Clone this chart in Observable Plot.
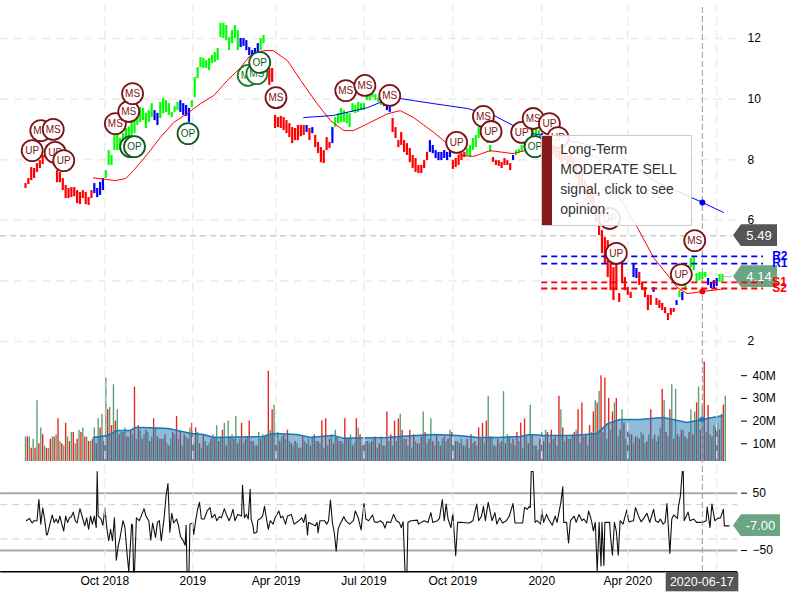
<!DOCTYPE html>
<html>
<head>
<meta charset="utf-8">
<script src="https://cdn.jsdelivr.net/npm/d3@7"></script>
<script src="https://cdn.jsdelivr.net/npm/@observablehq/plot@0.6"></script>
<style>
html,body{margin:0;padding:0;background:#fff;}
#chart{position:relative;width:800px;height:600px;overflow:hidden;font-family:"Liberation Sans",Arial,sans-serif;}
#chart svg{position:absolute;left:0;top:0;background:none;}
.badge{position:absolute;color:#fff;font-size:13px;display:flex;align-items:center;justify-content:center;box-sizing:border-box;}
#tip{position:absolute;box-sizing:border-box;background:rgba(255,255,255,.88);border:1px solid #ccc;color:#333;font-size:14px;line-height:20px;padding:3px 0 0 18px;white-space:nowrap;}
#tip i{position:absolute;left:0;top:0;bottom:0;width:10px;background:#85191b;}
</style>
</head>
<body>
<div id="chart"></div>
<script>
// day numbers count from the first bar, 2018-07-10
const firstDay = Date.UTC(2018, 6, 10);
const dayDate = d => new Date(firstDay + d * 864e5);

// x axis
const tickDays = [83, 175, 262, 354, 447, 540, 630];
const tickLabels = ["Oct 2018", "2019", "Apr 2019", "Jul 2019", "Oct 2019", "2020", "Apr 2020"];
const gridDays = [83, 175, 262, 354, 447, 540, 630, 723];
const cursorDay = 708;

// price bars, one every three days
const priceHigh = [7.21,7.38,7.74,7.71,7.87,7.97,8.14,8.30,8.37,8.24,8.04,7.64,7.58,7.38,7.15,7.05,7.08,7.08,6.98,6.92,6.98,6.92,6.75,6.98,7.21,7.05,7.25,7.38,7.64,8.30,8.14,8.80,8.86,8.70,8.86,9.03,9.09,9.23,9.29,9.56,9.72,9.69,9.53,9.62,9.85,9.62,9.53,9.89,10.02,9.95,9.85,9.56,9.76,9.89,9.95,9.85,9.79,9.69,9.95,10.71,11.04,11.37,11.34,11.27,11.34,11.44,11.54,11.67,12.50,12.50,12.43,12.03,12.26,12.43,12.26,12.00,12.00,11.93,11.70,11.60,11.67,11.83,12.00,12.10,11.27,11.01,11.01,9.46,9.39,9.43,9.39,9.29,9.19,9.06,9.03,9.13,9.13,9.13,9.13,9.03,9.06,8.80,8.57,8.40,8.30,8.73,8.57,9.06,9.39,9.52,9.69,9.62,9.56,9.52,9.85,9.79,9.89,9.85,9.85,10.28,10.28,10.28,10.15,10.02,9.95,9.95,9.89,9.79,9.36,9.06,8.63,8.90,8.63,8.53,8.37,8.14,8.04,7.81,7.81,7.97,8.24,8.63,8.47,8.30,8.24,8.24,8.30,8.24,8.37,7.97,8.04,8.14,8.20,8.24,8.37,8.47,8.70,8.80,9.06,9.13,9.03,8.73,8.47,8.07,7.97,7.97,7.91,8.04,7.97,7.87,8.14,8.30,8.34,8.47,8.70,8.96,8.96,8.96,9.00,8.96,8.86,8.80,8.57,8.53,8.53,8.37,8.30,8.30,8.24,8.14,8.24,8.04,7.81,7.64,7.54,7.31,7.15,6.98,6.82,6.49,6.16,5.66,5.43,5.33,4.57,4.44,5.17,3.58,4.57,4.11,3.78,3.62,4.57,4.41,4.28,3.95,3.78,3.52,3.52,3.78,3.42,3.35,3.26,3.12,2.92,3.09,3.09,3.35,3.68,3.62,3.85,4.51,4.74,4.77,4.24,4.28,4.28,4.28,4.08,3.95,4.01,4.08,4.21,4.21];
const priceLow = [7.05,7.18,7.31,7.38,7.58,7.71,7.84,8.04,8.11,7.97,7.78,7.24,7.24,6.98,6.72,6.72,6.75,6.78,6.55,6.52,6.72,6.52,6.49,6.72,6.88,6.75,6.82,6.98,7.38,7.81,7.81,8.30,8.30,8.30,8.43,8.56,8.63,8.80,8.86,9.13,9.23,9.29,9.03,9.23,9.39,9.29,9.13,9.36,9.52,9.56,9.46,9.39,9.56,9.62,9.56,9.46,9.43,9.23,9.72,10.05,10.68,11.04,11.01,11.01,10.94,11.17,11.21,11.27,12.03,12.00,11.93,11.60,11.83,12.00,11.60,11.70,11.74,11.60,11.44,11.34,11.44,11.54,11.60,11.83,10.88,10.45,10.55,9.03,9.06,9.03,8.96,8.86,8.73,8.53,8.63,8.63,8.76,8.80,8.90,8.63,8.86,8.40,8.20,7.90,7.87,8.30,8.37,8.53,9.06,9.19,9.23,9.23,9.19,9.06,9.56,9.52,9.56,9.62,9.62,9.95,9.95,10.05,9.95,9.89,9.79,9.76,9.62,9.56,8.90,8.70,8.40,8.47,8.24,8.14,7.90,7.71,7.58,7.54,7.54,7.71,7.97,8.24,8.20,8.04,7.97,7.97,8.04,7.97,8.07,7.68,7.74,7.81,7.97,8.07,8.11,8.07,8.30,8.40,8.70,8.80,8.63,8.53,8.24,7.91,7.81,7.78,7.71,7.81,7.81,7.64,7.97,8.14,8.20,8.24,8.37,8.47,8.57,8.70,8.76,8.80,8.53,8.53,8.30,8.24,8.14,8.04,7.97,7.91,7.97,7.81,7.87,7.58,7.38,7.15,7.08,6.82,6.75,6.55,6.32,5.93,5.50,4.90,4.57,4.11,3.68,3.35,3.68,3.29,3.91,3.68,3.52,3.42,4.11,4.08,3.85,3.68,3.45,3.02,3.19,3.62,3.19,3.09,3.02,2.92,2.69,2.86,2.96,3.19,3.45,3.35,3.68,4.01,4.44,4.34,3.95,4.01,4.05,4.11,3.85,3.75,3.75,3.82,3.95,3.98];
const signalRuns = [[24,"red"],[4,"blue"],[17,"green"],[2,"blue"],[7,"green"],[4,"blue"],[17,"green"],[7,"blue"],[2,"green"],[14,"red"],[1,"blue"],[1,"red"],[1,"blue"],[6,"red"],[1,"blue"],[17,"green"],[3,"blue"],[13,"red"],[8,"blue"],[5,"red"],[9,"green"],[7,"red"],[1,"blue"],[9,"green"],[2,"blue"],[30,"red"],[2,"blue"],[5,"red"],[1,"blue"],[7,"red"],[1,"blue"],[1,"green"],[1,"blue"],[8,"green"],[4,"blue"],[2,"green"]];
const signalColors = {red:"#ff0000", green:"#00ff00", blue:"#0000ff"};

// moving averages: [day, price]
const maShort = [[71,7.40],[84,7.35],[94,7.31],[105,7.38],[113,7.64],[128,8.20],[141,8.73],[155,9.23],[169,9.52],[183,9.85],[197,10.12],[211,10.61],[225,11.04],[235,11.44],[249,11.60],[259,11.60],[274,11.27],[288,10.61],[305,9.85],[319,9.29],[333,8.96],[343,8.96],[358,9.19],[379,9.52],[392,9.62],[406,9.39],[427,8.90],[441,8.53],[455,8.14],[469,8.11],[486,8.30],[510,8.20],[531,8.37],[567,8.53],[598,8.07],[619,6.88],[640,5.76],[657,4.77],[682,3.78],[692,3.58],[708,3.65],[727,3.72],[730,3.75]];
const maLong = [[291,9.39],[322,9.46],[358,9.72],[371,9.89],[392,10.02],[406,9.95],[427,9.85],[462,9.69],[490,9.46],[510,9.13],[531,8.86],[584,8.53],[619,8.20],[657,7.31],[708,6.59],[730,6.26]];

// support and resistance
const levelStart = 540, levelEnd = 772, levelLabelDay = 781;
const levelNames = ["R2","R1","S1","S2"];
const levelValues = [4.81,4.57,3.95,3.75];
const levelColors = ["#0000ff","#0000ff","#ff0000","#ff0000"];

// signal circles: day, price, label, kind
const signalDays = [7,16,29,31,40,94,108,112,110,114,170,233,242,245,262,335,355,381,451,479,487,519,531,548,557,533,611,618,700,686];
const signalPrices = [8.30,8.96,9.00,8.24,7.97,9.19,9.59,10.18,8.43,8.43,8.86,10.78,10.84,11.21,10.05,10.28,10.45,10.12,8.57,9.43,8.93,8.90,9.36,9.19,8.73,8.43,6.06,4.91,5.33,4.21];
const signalLabels = ["UP","MS","MS","UP","UP","MS","MS","MS","OP","OP","OP","MS","MS","OP","MS","MS","MS","MS","UP","MS","UP","UP","MS","UP","UP","OP","UP","UP","MS","UP"];
const signalInk = ["d","d","d","d","d","d","d","d","g","g","g","m","m","g","d","d","d","d","d","d","d","d","d","d","d","g","d","d","d","d"];
const inkColors = {d:"#7d1315", g:"#0f5a1c", m:"#1c7a28"};

// volume in millions: green bars fall on every fourth day, red bars two days later
const greenVolume = [13,13,12,29,17,9,8,13,14,11,9,13,15,10,16,17,13,11,17,21,23,39,26,36,25,15,17,13,14,12,16,14,15,13,17,12,12,10,12,14,12,9,13,17,10,15,8,11,10,14,18,13,19,20,14,22,12,10,13,11,9,15,14,14,16,27,15,13,12,11,9,10,8,11,12,13,11,10,8,9,14,16,11,10,12,14,10,17,9,11,10,12,8,13,9,11,9,11,23,12,9,8,11,10,24,10,21,9,11,12,11,16,9,11,12,9,8,10,9,12,10,31,13,9,10,33,14,10,9,11,8,13,27,9,7,15,16,10,12,9,25,11,12,14,16,10,13,9,15,29,33,15,12,16,28,13,25,12,14,10,13,15,10,14,12,11,17,29,13,36,34,13,16,12,25,24,35,27,15,14,18,19,23,31];
const redVolume = [13,8,8,10,14,8,12,13,21,10,19,11,15,12,15,13,11,12,10,17,11,25,18,20,14,15,13,16,35,18,12,16,11,21,13,12,14,9,15,22,15,14,12,19,17,10,14,9,12,13,11,16,9,13,12,10,19,12,20,11,9,12,13,42,25,13,11,14,16,10,11,8,13,10,9,14,11,20,21,12,10,13,11,21,12,9,21,14,10,11,11,13,10,9,24,14,20,21,16,12,16,14,10,13,15,12,11,14,9,13,12,15,11,10,9,12,14,11,17,19,20,13,9,12,11,10,13,12,15,19,21,10,14,9,12,11,15,16,13,31,17,13,12,15,25,28,14,18,24,28,40,39,30,24,30,16,19,15,14,13,12,14,11,25,14,13,34,15,25,12,14,16,13,15,14,28,16,46,27,13,17,16,27];
const volumeAverage = [[71,12.8],[86,13.7],[96,15.9],[110,15.9],[115,17.2],[123,17.2],[149,16.7],[159,15.9],[173,14.5],[186,14.1],[197,12.8],[249,13.2],[259,14.5],[284,14.1],[298,12.8],[309,13.2],[322,13.7],[333,12.4],[379,12.8],[392,13.2],[427,14.1],[452,13.7],[473,12.8],[494,12.8],[518,13.2],[528,14.1],[542,13.7],[573,13.7],[598,14.5],[609,18.9],[622,20.7],[643,20.7],[667,21.6],[692,19.4],[708,20.7],[730,22.5]];

// momentum oscillator: [day, value]
const oscillator = [[1,2],[4,6],[7,-2],[9,2],[12,2],[14,39],[16,-4],[18,24],[20,5],[22,-23],[23,-22],[26,-1],[28,12],[30,-1],[32,5],[34,-2],[36,10],[38,-4],[40,-16],[42,10],[44,-1],[46,7],[48,9],[50,17],[52,2],[54,-2],[57,23],[60,5],[62,-7],[64,7],[66,-13],[68,10],[70,-4],[72,10],[74,-10],[75,88],[76,10],[79,5],[81,-6],[83,25],[85,-10],[87,-33],[89,-13],[91,-33],[93,7],[95,-67],[97,-42],[99,-27],[102,2],[104,-10],[106,-51],[108,-87],[111,-4],[112,-6],[113,-87],[114,-87],[116,7],[119,2],[121,10],[124,23],[126,10],[129,2],[131,-32],[133,-2],[136,-27],[138,-1],[140,2],[142,-33],[145,7],[147,45],[149,67],[151,-18],[153,15],[155,-2],[158,5],[160,-6],[162,-25],[165,-33],[167,-41],[168,-6],[169,-87],[171,-87],[172,-4],[175,-2],[176,-22],[178,2],[180,22],[182,34],
[184,5],[187,5],[190,19],[193,25],[195,7],[198,13],[200,2],[203,9],[205,7],[208,23],[210,13],[213,2],[215,10],[217,22],[219,2],[222,13],[226,10],[227,64],[229,7],[231,13],[233,5],[235,57],[236,5],[238,-7],[239,-20],[242,-18],[243,3],[246,6],[248,10],[250,27],[253,-4],[254,-13],[256,2],[259,-4],[261,7],[265,19],[267,7],[269,10],[272,-4],[274,10],[278,13],[281,-4],[286,2],[289,7],[291,-1],[293,13],[295,-23],[296,-1],[300,-4],[303,-7],[305,-1],[306,-19],[308,2],[313,2],[315,-4],[317,2],[319,38],[321,-1],[323,-19],[325,-51],[327,-13],[329,-4],[333,9],[335,2],[339,-4],[343,2],[345,19],[348,7],[351,-14],[354,32],[356,5],[359,2],[363,12],[365,0],[368,-1],
[371,2],[374,-2],[376,-11],[378,0],[382,-1],[385,13],[388,2],[391,-1],[393,-10],[395,0],[397,-87],[399,-87],[400,-1],[403,2],[410,3],[411,-4],[417,2],[421,-1],[424,16],[426,-1],[431,2],[433,6],[436,39],[438,2],[440,31],[442,5],[445,-10],[447,15],[450,-59],[452,-1],[457,-1],[464,-2],[468,2],[472,31],[474,2],[477,10],[479,27],[481,2],[484,34],[488,2],[491,16],[493,-4],[496,7],[499,-2],[503,2],[506,10],[510,32],[512,-2],[520,-2],[522,25],[525,22],[527,27],[528,25],[529,88],[531,88],[533,-1],[535,2],[539,-4],[540,22],[542,-1],[545,13],[547,5],[551,-6],[554,10],[556,-1],[560,34],
[562,61],[563,-1],[566,-1],[568,-37],[570,2],[574,10],[576,-1],[579,13],[582,2],[584,5],[587,-2],[589,19],[592,2],[594,-16],[596,-1],[598,-87],[600,-1],[602,-77],[603,-1],[605,-76],[606,-1],[611,-1],[612,-27],[614,-58],[616,-1],[618,-16],[620,-58],[622,2],[625,-4],[629,21],[631,0],[636,2],[638,25],[642,7],[644,0],[647,7],[650,15],[653,-1],[657,22],[659,2],[662,-1],[664,5],[667,-4],[669,-1],[671,32],[674,-55],[676,5],[678,12],[682,6],[683,27],[685,45],[687,88],[688,88],[689,2],[693,17],[695,2],[699,5],[702,-1],[708,-1],[712,2],[713,26],[716,-10],[718,31],[721,2],[724,6],[727,7],[730,22],[731,-7],[736,-7]];

// panel readouts
const lastClose = 5.49, lastPrice = 4.14, lastOsc = -7, cursorLabel = "2020-06-17";
const cursorPriceShort = 3.65, cursorPriceLong = 6.59, cursorVolume = 20.7;
const tipLines = ["Long-Term","MODERATE SELL","signal, click to see","opinion."];

const font = '"Liberation Sans", Arial, sans-serif';
const xScale = {type:"utc", domain:[dayDate(-26.15), dayDate(810.65)], range:[0,800], axis:null};
const base = {width:800, height:600, marginTop:0, marginLeft:0, style:{fontFamily:font, fontSize:"12px", background:"none"}};
const axisEnd = 745, axisStart = -26;

const bars = priceHigh.map((h,i)=>({date:dayDate(i*3), h, l:priceLow[i]}));
let k = 0;
signalRuns.forEach(([n,c])=>{ for(let j=0;j<n;j++) bars[k++].c = signalColors[c]; });
const pts = a => a.map(([d,v])=>({date:dayDate(d), v}));
const levels = levelNames.map((n,i)=>({n, v:levelValues[i], c:levelColors[i]}));
const signals = signalDays.map((d,i)=>({date:dayDate(d), p:signalPrices[i], t:signalLabels[i], c:inkColors[signalInk[i]]}));
const vols = [
  ...greenVolume.map((v,i)=>({date:dayDate(i*4), v, c:"#5f9f78"})),
  ...redVolume.map((v,i)=>({date:dayDate(i*4+2), v, c:"#e8281e"}))
].sort((a,b)=>a.date-b.date);

const oscPlot = Plot.plot({...base, marginRight:60, marginBottom:29,
  x:xScale, y:{domain:[-50,50], range:[550,492.7], axis:null},
  marks:[
    Plot.ruleY([-50,50],{x1:dayDate(axisStart),x2:dayDate(axisEnd),stroke:"#aaa",strokeWidth:2}),
    Plot.ruleY([-30,30],{x1:dayDate(axisStart),x2:dayDate(axisEnd),stroke:"#ccc",strokeWidth:1,strokeDasharray:"7,5"}),
    Plot.line(pts(oscillator),{x:"date",y:"v",stroke:"#111",strokeWidth:1.1}),
    Plot.ruleY([-87.3],{x1:dayDate(axisStart),x2:dayDate(axisEnd),stroke:"#000",strokeWidth:1.5}),
    Plot.axisX({ticks:tickDays.map(dayDate),tickFormat:d=>tickLabels[tickDays.indexOf((d-firstDay)/864e5)],tickSize:0,tickPadding:5,label:null,color:"#000"}),
    Plot.axisY({anchor:"right",ticks:[-50,50],tickSize:6,tickPadding:6,label:null,color:"#000"})
  ]});

const volPlot = Plot.plot({...base, marginRight:60, marginBottom:0,
  x:xScale, y:{domain:[0,40], range:[466,375.2], axis:null},
  marks:[
    Plot.ruleX(vols,{x:"date",y1:()=>2.2,y2:"v",stroke:"c",strokeWidth:1.4}),
    Plot.areaY(pts(volumeAverage),{x:"date",y1:()=>2.2,y2:"v",fill:"#1f77b4",fillOpacity:.5}),
    Plot.line(pts(volumeAverage),{x:"date",y:"v",stroke:"#1f77b4",strokeWidth:1.5}),
    Plot.dot([{date:dayDate(cursorDay),v:cursorVolume}],{x:"date",y:"v",r:3,fill:"#1f77b4"}),
    Plot.axisY({anchor:"right",ticks:[10,20,30,40],tickFormat:d=>d+"M",tickSize:6,tickPadding:6,label:null,color:"#000"})
  ]});

const pricePlot = Plot.plot({...base, marginRight:53, marginBottom:0,
  x:xScale, y:{domain:[2,12], range:[341,38], axis:null},
  marks:[
    Plot.ruleY([2,4,6,8,10,12],{x1:dayDate(axisStart),x2:dayDate(axisEnd),stroke:"#ececec",strokeWidth:1.5,strokeDasharray:"8,6"}),
    Plot.ruleX(gridDays.map(dayDate),{y1:()=>-5.59,y2:()=>13.09,stroke:"#e8e8e8",strokeWidth:1.2,strokeDasharray:"8,6"}),
    Plot.ruleY([lastClose],{x1:dayDate(axisStart),x2:dayDate(739),stroke:"#ccc",strokeWidth:1.5,strokeDasharray:"6,4"}),
    Plot.ruleY([lastPrice],{x1:dayDate(730),x2:dayDate(739),stroke:"#bbb",strokeWidth:1}),
    Plot.ruleX([dayDate(cursorDay)],{y1:()=>-5.59,y2:()=>13.09,stroke:"#999",strokeWidth:1,strokeDasharray:"6,3"}),
    Plot.ruleX(bars,{x:"date",y1:"l",y2:"h",stroke:"c",strokeWidth:2.2}),
    Plot.line(pts(maShort),{x:"date",y:"v",stroke:"#ff0000",strokeWidth:1}),
    Plot.line(pts(maLong),{x:"date",y:"v",stroke:"#0000ff",strokeWidth:1}),
    Plot.ruleY(levels,{y:"v",x1:dayDate(levelStart),x2:dayDate(levelEnd),stroke:"c",strokeWidth:1.8,strokeDasharray:"6,4"}),
    Plot.text(levels,{x:()=>dayDate(levelLabelDay),y:"v",text:"n",fill:"c",fontWeight:"bold",fontSize:12,textAnchor:"start"}),
    Plot.dot([{date:dayDate(cursorDay),v:cursorPriceShort}],{x:"date",y:"v",r:3,fill:"#ff0000"}),
    Plot.dot([{date:dayDate(cursorDay),v:cursorPriceLong}],{x:"date",y:"v",r:3,fill:"#0000ff"}),
    ...signals.flatMap(s=>[
      Plot.dot([s],{x:"date",y:"p",r:10.5,fill:"#fff",stroke:"c",strokeWidth:1.8}),
      Plot.text([s],{x:"date",y:"p",text:"t",fill:"c",fontSize:10})
    ]),
    Plot.axisY({anchor:"right",ticks:[2,6,8,10,12],tickSize:0,tickPadding:0,label:null,color:"#000"})
  ]});

const chart = document.getElementById("chart");
chart.append(oscPlot, volPlot);

const yP = pricePlot.scale("y"), yO = oscPlot.scale("y"), xP = pricePlot.scale("x");
function badge(text, cy, color, width){
  const h = 22, el = document.createElement("div");
  el.className = "badge";
  el.textContent = text;
  el.style.cssText += `left:733px;top:${cy-h/2}px;width:${width}px;height:${h}px;background:${color};padding-left:8px;clip-path:polygon(0 50%,8px 0,100% 0,100% 100%,8px 100%);`;
  chart.append(el);
}
badge(lastClose.toFixed(2), yP.apply(lastClose), "#555", 44);
badge(lastPrice.toFixed(2), yP.apply(lastPrice), "#6ba583", 44);
badge(lastOsc.toFixed(2), yO.apply(lastOsc), "#6ba583", 47);

const dateBadge = document.createElement("div");
dateBadge.className = "badge";
dateBadge.textContent = cursorLabel;
dateBadge.style.cssText += `left:${xP.apply(dayDate(cursorDay))-37}px;top:572px;width:74px;height:20px;background:#555;border:1px solid #ccc;border-top:0;font-size:12.5px;`;
chart.append(dateBadge);

chart.append(pricePlot);

const tip = document.createElement("div");
tip.id = "tip";
tip.innerHTML = "<i></i>" + tipLines.join("<br>");
tip.style.cssText = `left:${xP.apply(dayDate(540))}px;top:135px;width:151px;height:91px;`;
chart.append(tip);
</script>
</body>
</html>
